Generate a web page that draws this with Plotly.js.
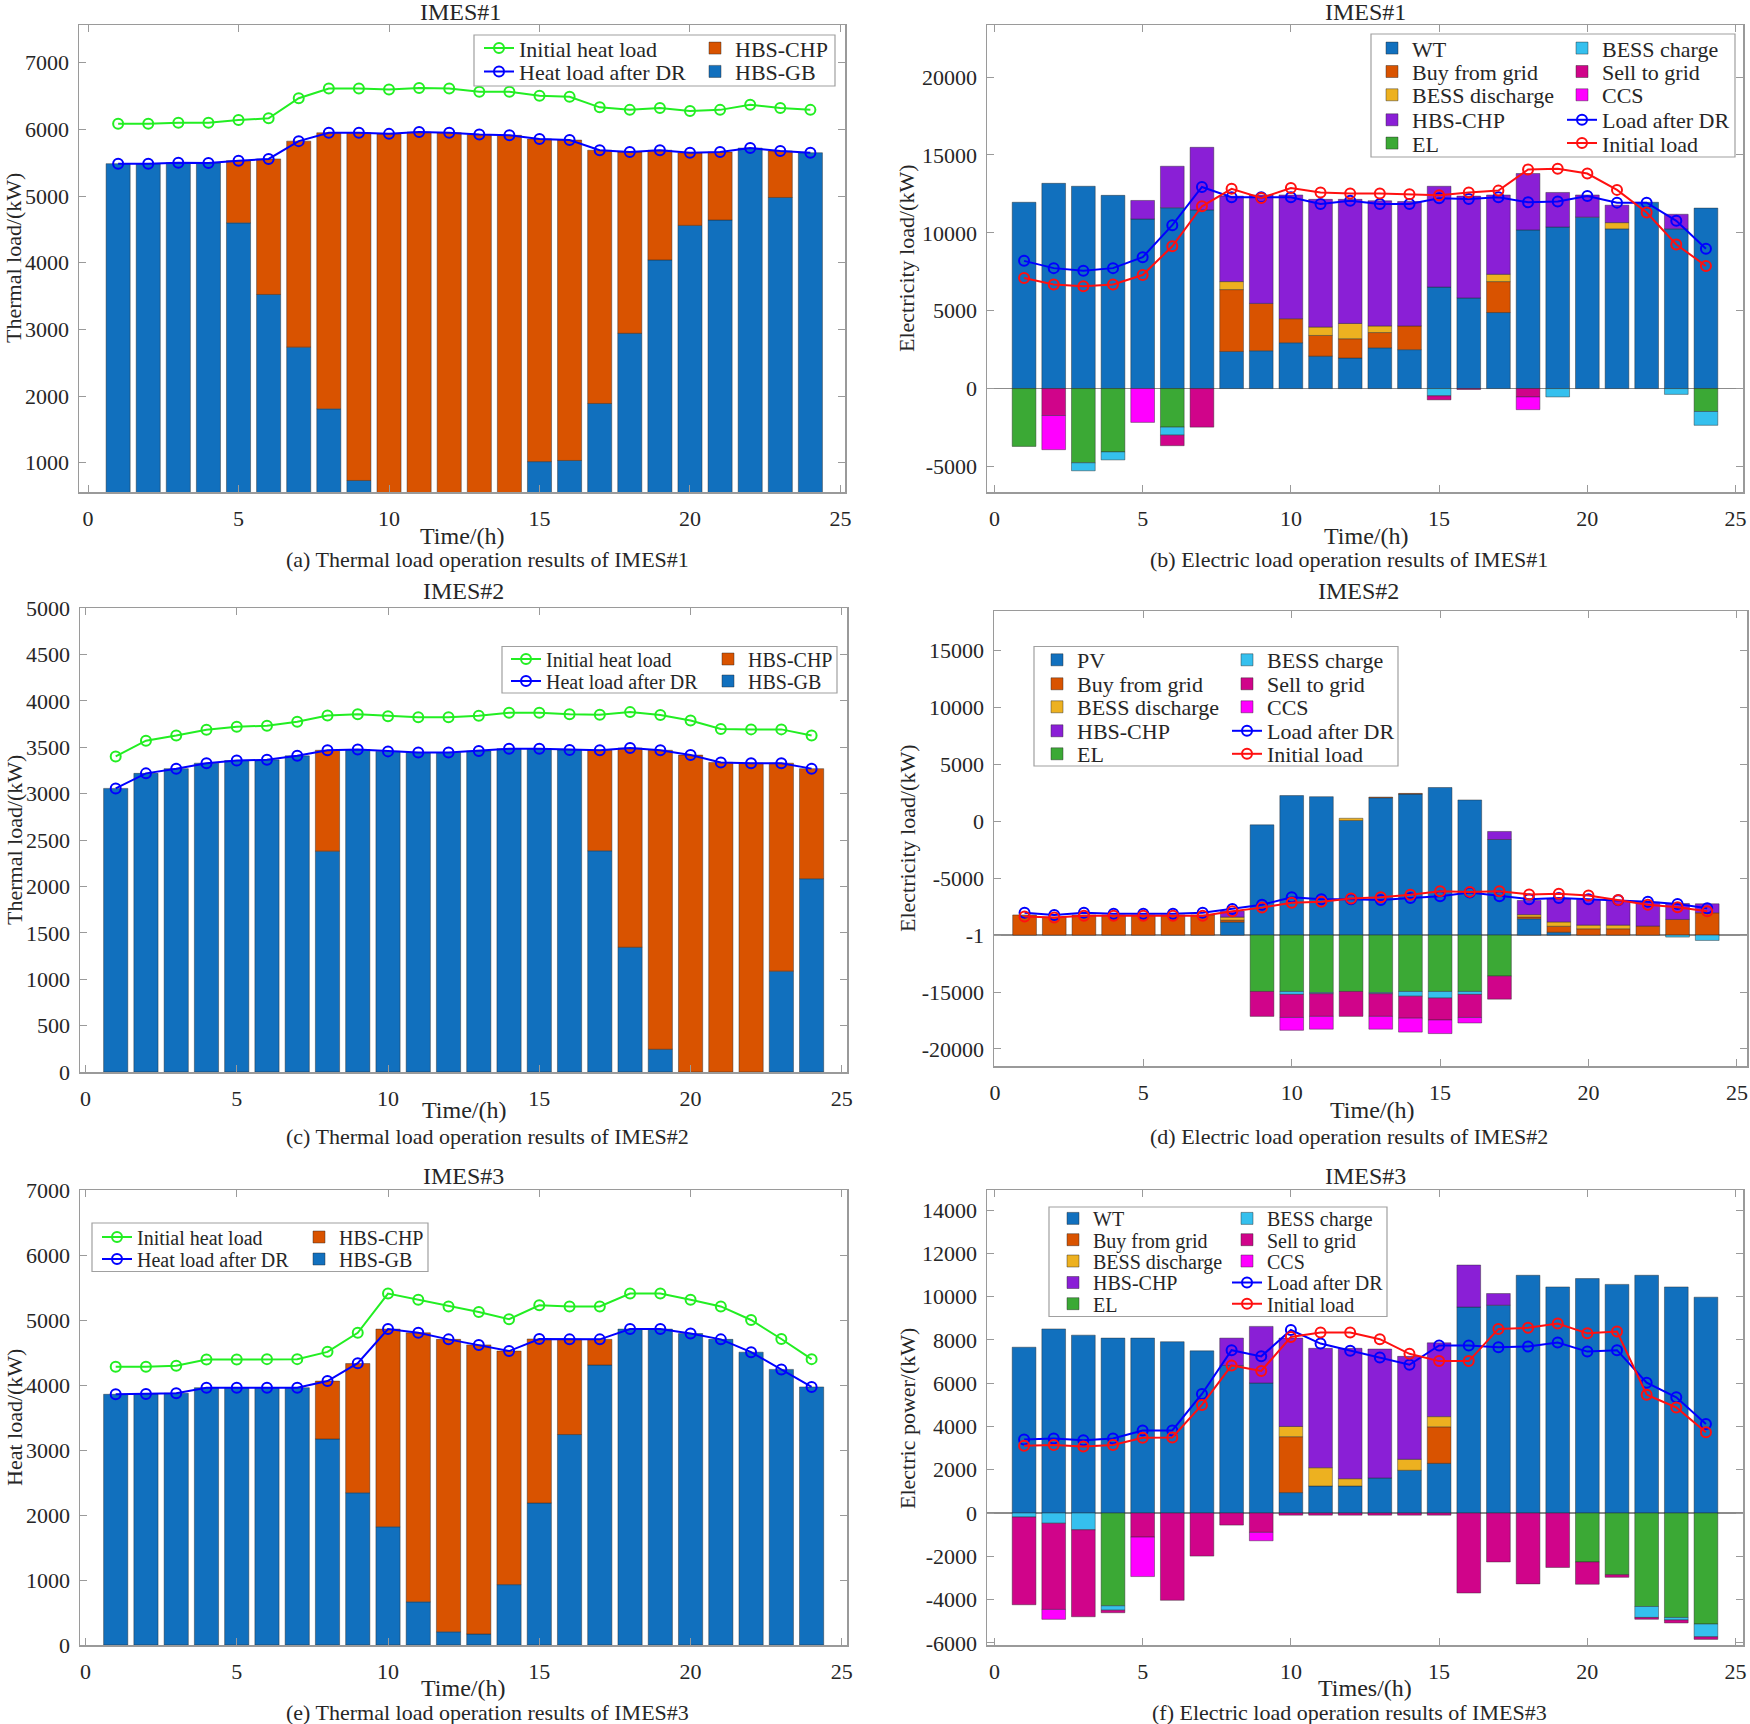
<!DOCTYPE html>
<html>
<head>
<meta charset="utf-8">
<script src="https://cdn.plot.ly/plotly-3.0.1.min.js"></script>
<style>
html,body{margin:0;padding:0;background:#fff;}
#chart{width:1750px;height:1724px;}
</style>
</head>
<body>
<div id="chart"></div>
<script>
// ---------------- DATA ----------------
const hours = [1,2,3,4,5,6,7,8,9,10,11,12,13,14,15,16,17,18,19,20,21,22,23,24];
const xTicks = [0,5,10,15,20,25];

// (a) Thermal load IMES#1
const a_GB      = [5485,5485,5500,5495,4597,3523,2733,1807,733,0,0,0,0,0,1016,1033,1888,2940,4041,4559,4640,5719,4978,5649];
const a_CHP     = [0,0,0,0,933,2033,3090,4141,5215,5932,5959,5948,5921,5910,4840,4806,3799,2719,1646,1090,1019,0,698,0];
const a_initial = [6084,6084,6100,6100,6139,6166,6466,6613,6613,6597,6619,6613,6564,6564,6504,6488,6330,6292,6319,6275,6292,6368,6319,6292];
const a_afterDR = [5485,5485,5500,5495,5530,5556,5823,5948,5948,5932,5959,5948,5921,5910,5856,5839,5687,5659,5687,5649,5659,5719,5676,5649];
const a_yTicks  = [1000,2000,3000,4000,5000,6000,7000];
const a_yLabels = ['1000','2000','3000','4000','5000','6000','7000'];

// (b) Electric load IMES#1
const b_WT      = [11960,13175,12988,12404,10886,11610,11470,2383,2429,2943,2079,1962,2616,2500,6517,5817,4882,10185,10372,11003,10255,11960,10255,11587];
const b_buy     = [0,0,0,0,0,0,0,3971,3037,1542,1332,1238,981,1518,0,0,1986,0,0,0,0,0,0,0];
const b_bessDis = [0,0,0,0,0,0,0,514,0,0,537,981,421,0,0,0,467,0,0,0,397,0,0,0];
const b_CHP     = [0,0,0,0,1191,2663,4018,5489,6962,7943,8199,7966,8036,7989,6471,6540,5093,3621,2219,1425,1121,0,934,0];
const b_EL      = [-3714,0,-4765,-4065,0,-2476,0,0,0,0,0,0,0,0,0,0,0,0,0,0,0,0,0,-1472];
const b_bessCh  = [0,0,-514,-514,0,-514,0,0,0,0,0,0,0,0,-467,0,0,0,-537,0,0,0,-374,-887];
const b_sell    = [0,-1729,0,0,0,-677,-2476,0,0,0,0,0,0,0,-257,-60,0,-537,0,0,0,0,0,0];
const b_CCS     = [0,-2195,0,0,-2172,0,0,0,0,0,0,0,0,0,0,0,0,-818,0,0,0,0,0,0];
const b_afterDR = [8199,7732,7569,7732,8433,10489,12941,12287,12287,12287,11843,12054,11843,11843,12217,12171,12287,11960,12007,12357,11937,11937,10769,8970];
const b_initial = [7101,6681,6564,6681,7288,9134,11703,12825,12241,12871,12591,12521,12521,12474,12404,12591,12708,14063,14109,13806,12755,11306,9251,7872];
const b_yTicks  = [-5000,0,5000,10000,15000,20000];
const b_yLabels = ['-5000','0','5000','10000','15000','20000'];

// (c) Thermal load IMES#2
const c_GB      = [3056,3218,3269,3328,3356,3364,3407,2380,3475,3455,3443,3443,3459,3483,3483,3471,2384,1344,245,0,0,0,1087,2083];
const c_CHP     = [0,0,0,0,0,0,0,1087,0,0,0,0,0,0,0,0,1083,2147,3222,3415,3336,3328,2241,1186];
const c_initial = [3400,3570,3625,3688,3720,3732,3775,3842,3854,3834,3822,3822,3838,3870,3870,3854,3850,3878,3846,3787,3696,3692,3692,3625];
const c_afterDR = [3056,3218,3269,3328,3356,3364,3407,3467,3475,3455,3443,3443,3459,3483,3483,3471,3467,3491,3467,3415,3336,3328,3328,3269];
const c_yTicks  = [0,500,1000,1500,2000,2500,3000,3500,4000,4500,5000];
const c_yLabels = ['0','500','1000','1500','2000','2500','3000','3500','4000','4500','5000'];

// (d) Electric load IMES#2 (values measured from the bar baseline)
const d_PV      = [0,0,0,0,0,0,0,1140,9683,12257,12160,10069,12064,12385,12964,11871,8396,1433,250,0,0,0,0,0];
const d_buy     = [1769,1576,1769,1769,1769,1769,1769,175,0,0,0,0,60,60,0,0,0,160,526,555,555,790,1374,1960];
const d_bessDis = [0,0,0,0,0,0,0,263,0,0,0,193,0,0,0,0,0,205,380,320,320,0,0,0];
const d_CHP     = [0,0,0,0,0,0,0,526,0,0,0,0,0,0,0,0,708,1250,2017,2250,2160,2105,1404,790];
const d_EL      = [0,0,0,0,0,0,0,0,-4954,-4954,-5051,-4954,-5051,-4954,-4954,-4954,-3603,0,0,0,0,0,0,0];
const d_bessCh  = [0,0,0,0,0,0,0,0,0,-257,-97,0,-97,-418,-579,-257,0,0,0,0,0,0,-175,-470];
const d_sell    = [0,0,0,0,0,0,0,0,-2188,-2027,-1994,-2188,-1994,-1930,-1930,-2027,-2027,0,0,0,0,0,0,0];
const d_CCS     = [0,0,0,0,0,0,0,0,0,-1126,-1126,0,-1126,-1222,-1190,-483,0,0,0,0,0,0,0,0];
const d_afterDR = [1962,1769,1962,1866,1866,1866,1962,2284,2670,3314,3153,3153,3088,3249,3410,3732,3410,3153,3249,3153,3056,2927,2734,2348];
const d_initial = [1641,1544,1705,1705,1705,1705,1705,2091,2413,2831,2927,3217,3314,3539,3860,3796,3860,3571,3635,3474,3088,2670,2445,2091];
const d_yTicks  = [-10000,-5000,0,5000,10000,15000,20000,25000];
const d_yLabels = ['-20000','-15000','-1','-5000','0','5000','10000','15000'];

// (e) Thermal load IMES#3
const e_GB      = [3857,3863,3874,3959,3959,3959,3959,3170,2342,1819,664,203,169,929,2185,3238,4308,4860,4860,4792,4702,4505,4240,3970];
const e_CHP     = [0,0,0,0,0,0,0,890,1988,3041,4139,4499,4448,3593,2523,1464,394,0,0,0,0,0,0,0];
const e_initial = [4280,4280,4296,4392,4392,4398,4398,4510,4803,5406,5310,5209,5124,5012,5226,5209,5209,5406,5406,5310,5209,5000,4708,4398];
const e_afterDR = [3857,3863,3874,3959,3959,3959,3959,4060,4336,4860,4803,4702,4617,4522,4708,4702,4702,4860,4860,4792,4702,4505,4240,3970];
const e_yTicks  = [0,1000,2000,3000,4000,5000,6000,7000];
const e_yLabels = ['0','1000','2000','3000','4000','5000','6000','7000'];

// (f) Electric load IMES#3
const f_WT      = [7664,8508,8221,8086,8086,7917,7495,6820,6009,945,1249,1249,1620,1975,2296,9520,9605,10989,10449,10837,10567,10989,10449,9976];
const f_buy     = [0,0,0,0,0,0,0,0,0,2583,0,0,0,0,1688,0,0,0,0,0,0,0,0,0];
const f_bessDis = [0,0,0,0,0,0,0,0,0,473,844,338,0,506,472,0,0,0,0,0,0,0,0,0];
const f_CHP     = [0,0,0,0,0,0,0,1266,2617,4085,5520,6026,5959,4760,3410,1941,540,0,0,0,0,0,0,0];
const f_EL      = [0,0,0,-4288,0,0,0,0,0,0,0,0,0,0,0,0,0,0,0,-2262,-2853,-4321,-4828,-5132];
const f_bessCh  = [-186,-473,-776,-203,0,0,0,0,0,0,0,0,0,0,0,0,0,0,0,0,0,-506,-118,-591];
const f_sell    = [-4053,-3984,-4018,-118,-1114,-4034,-1992,-557,-895,-100,-100,-100,-100,-100,-100,-3697,-2262,-3275,-2515,-1030,-118,-84,-135,-118];
const f_CCS     = [0,-456,0,0,-1823,0,0,0,-388,0,0,0,0,0,0,0,0,0,0,0,0,0,0,0];
const f_afterDR = [3393,3443,3359,3443,3815,3815,5503,7528,7241,8457,7832,7495,7191,6853,7748,7748,7664,7697,7883,7461,7528,6026,5351,4119];
const f_initial = [3106,3140,3072,3140,3477,3494,4996,6820,6566,8136,8339,8339,8035,7360,7022,7022,8508,8558,8761,8305,8390,5469,4878,3730];
const f_yTicks  = [-6000,-4000,-2000,0,2000,4000,6000,8000,10000,12000,14000];
const f_yLabels = ['-6000','-4000','-2000','0','2000','4000','6000','8000','10000','12000','14000'];

// ---------------- STYLE ----------------
const W = 1750, H = 1724;
const FONT = 'Liberation Serif, serif';
const TXT = '#262626';
const FRAME = '#9a9a9a';
const C = {
  blue:'#1170BE', orange:'#D95300', yellow:'#EDB120', purple:'#8A1FD6',
  green:'#3BA935', cyan:'#35C0EE', sell:'#D0048A', ccs:'#FF00FF',
  lBlue:'#0000FF', lRed:'#FF1010', lGreen:'#22EE22'
};
const px = v => v / W;
const py = v => 1 - v / H;

const layout = {
  width: W, height: H,
  margin: {l:0, r:0, t:0, b:0},
  paper_bgcolor: '#fff', plot_bgcolor: '#fff',
  barmode: 'relative', bargap: 0.2,
  showlegend: true,
  font: {family: FONT, color: TXT},
  annotations: [], shapes: []
};
const data = [];
const lines = [];

let legendCount = 0;
function newLegend(xLeft, yMid, fs) {
  legendCount++;
  const key = legendCount === 1 ? 'legend' : 'legend' + legendCount;
  layout[key] = {
    x: px(xLeft), y: py(yMid), xref:'paper', yref:'paper',
    xanchor:'left', yanchor:'middle',
    bgcolor:'rgba(0,0,0,0)', borderwidth:0,
    font:{family:FONT, size:fs, color:TXT},
    itemwidth:30, tracegroupgap:0
  };
  return key;
}
function legendBox(x0, y0, x1, y1) {
  layout.shapes.push({type:'rect', xref:'paper', yref:'paper',
    x0:px(x0), x1:px(x1), y0:py(y1), y1:py(y0),
    line:{color:'#a0a0a0', width:1.2}, fillcolor:'#fff', layer:'above'});
}
function addBar(ax, name, y, color, leg) {
  data.push({type:'bar', x:hours, y:y.map(v => v === 0 ? null : v), name:name,
    xaxis:'x'+ax, yaxis:'y'+ax, legend:leg, hoverinfo:'skip',
    marker:{color:color, line:{color:'rgba(40,40,40,0.55)', width:0.8}}});
}
function addLine(ax, name, y, color, leg) {
  lines.push({type:'scatter', mode:'lines+markers', x:hours, y:y, name:name,
    xaxis:'x'+ax, yaxis:'y'+ax, legend:leg, hoverinfo:'skip',
    line:{color:color, width:2},
    marker:{symbol:'circle-open', size:10, color:color, line:{color:color, width:2}}});
}
function annot(text, x, y, size, angle) {
  layout.annotations.push({text:text, xref:'paper', yref:'paper', x:px(x), y:py(y),
    xanchor:'center', yanchor:'middle', showarrow:false, textangle:angle||0,
    font:{family:FONT, size:size, color:TXT}});
}
function setAxes(i, dx, dy, xr, yr, yTickVals, yTickText, zero) {
  const s = i === 1 ? '' : String(i);
  layout['xaxis'+s] = {
    domain:[px(dx[0]), px(dx[1])], range:xr, anchor:'y'+s,
    tickvals:xTicks, ticks:'inside', ticklen:7, tickwidth:1, tickcolor:FRAME,
    showline:true, linecolor:FRAME, linewidth:1.5, mirror:'ticks',
    showgrid:false, zeroline:false, ticklabelstandoff:6,
    tickfont:{family:FONT, size:22, color:TXT}
  };
  layout['yaxis'+s] = {
    domain:[py(dy[1]), py(dy[0])], range:yr, anchor:'x'+s,
    tickvals:yTickVals, ticktext:yTickText, ticks:'inside', ticklen:7, tickwidth:1, tickcolor:FRAME,
    showline:true, linecolor:FRAME, linewidth:1.5, mirror:'ticks',
    showgrid:false, zeroline:!!zero, zerolinecolor:'#8c8c8c', zerolinewidth:1.5,
    ticklabelstandoff:4,
    tickfont:{family:FONT, size:22, color:TXT}
  };
}

// ---------------- PANEL (a) ----------------
setAxes(1, [79,845], [25,492], [-0.3,25.15], [560,7565], a_yTicks, a_yLabels, false);
addBar('', 'HBS-GB', a_GB, C.blue, newLegend(695, 71.6, 22));
addBar('', 'HBS-CHP', a_CHP, C.orange, newLegend(695, 48.3, 22));
addLine('', 'Initial heat load', a_initial, C.lGreen, newLegend(479, 48.3, 22));
addLine('', 'Heat load after DR', a_afterDR, C.lBlue, newLegend(479, 71.6, 22));
legendBox(474, 35, 835, 86);
annot('IMES#1', 461, 12, 24);
annot('Time/(h)', 462, 536, 24);
annot('Thermal load/(kW)', 14, 258, 22, -90);
annot('(a) Thermal load operation results of IMES#1', 487, 560, 22);

// ---------------- PANEL (b) ----------------
setAxes(2, [987,1743], [25,492], [-0.25,25.25], [-6640,23340], b_yTicks, b_yLabels, true);
{
  const rows = [48.3, 71.7, 95, 120, 143.3];
  addBar(2, 'WT', b_WT, C.blue, newLegend(1372, rows[0], 22));
  addBar(2, 'Buy from grid', b_buy, C.orange, newLegend(1372, rows[1], 22));
  addBar(2, 'BESS discharge', b_bessDis, C.yellow, newLegend(1372, rows[2], 22));
  addBar(2, 'HBS-CHP', b_CHP, C.purple, newLegend(1372, rows[3], 22));
  addBar(2, 'EL', b_EL, C.green, newLegend(1372, rows[4], 22));
  addBar(2, 'BESS charge', b_bessCh, C.cyan, newLegend(1562, rows[0], 22));
  addBar(2, 'Sell to grid', b_sell, C.sell, newLegend(1562, rows[1], 22));
  addBar(2, 'CCS', b_CCS, C.ccs, newLegend(1562, rows[2], 22));
  addLine(2, 'Load after DR', b_afterDR, C.lBlue, newLegend(1562, rows[3], 22));
  addLine(2, 'Initial load', b_initial, C.lRed, newLegend(1562, rows[4], 22));
  legendBox(1371, 34, 1735, 157);
}
annot('IMES#1', 1365, 12, 24);
annot('Time/(h)', 1366, 536, 24);
annot('Electricity load/(kW)', 907, 258, 22, -90);
annot('(b) Electric load operation results of IMES#1', 1349, 560, 22);

// ---------------- PANEL (c) ----------------
setAxes(3, [80,847], [608,1072], [-0.18,25.17], [0,5000], c_yTicks, c_yLabels, false);
addBar(3, 'HBS-GB', c_GB, C.blue, newLegend(708, 681, 20));
addBar(3, 'HBS-CHP', c_CHP, C.orange, newLegend(708, 659, 20));
addLine(3, 'Initial heat load', c_initial, C.lGreen, newLegend(506, 659, 20));
addLine(3, 'Heat load after DR', c_afterDR, C.lBlue, newLegend(506, 681, 20));
legendBox(502, 646.5, 837, 693);
annot('IMES#2', 463, 591, 24);
annot('Time/(h)', 464, 1110, 24);
annot('Thermal load/(kW)', 14, 840, 22, -90);
annot('(c) Thermal load operation results of IMES#2', 487, 1136, 22);

// ---------------- PANEL (d) ----------------
setAxes(4, [994,1747], [611,1066], [-0.03,25.34], [-11500,28470], d_yTicks, d_yLabels, true);
{
  const rows = [660, 684, 707, 731, 754];
  addBar(4, 'PV', d_PV, C.blue, newLegend(1037, rows[0], 22));
  addBar(4, 'Buy from grid', d_buy, C.orange, newLegend(1037, rows[1], 22));
  addBar(4, 'BESS discharge', d_bessDis, C.yellow, newLegend(1037, rows[2], 22));
  addBar(4, 'HBS-CHP', d_CHP, C.purple, newLegend(1037, rows[3], 22));
  addBar(4, 'EL', d_EL, C.green, newLegend(1037, rows[4], 22));
  addBar(4, 'BESS charge', d_bessCh, C.cyan, newLegend(1227, rows[0], 22));
  addBar(4, 'Sell to grid', d_sell, C.sell, newLegend(1227, rows[1], 22));
  addBar(4, 'CCS', d_CCS, C.ccs, newLegend(1227, rows[2], 22));
  addLine(4, 'Load after DR', d_afterDR, C.lBlue, newLegend(1227, rows[3], 22));
  addLine(4, 'Initial load', d_initial, C.lRed, newLegend(1227, rows[4], 22));
  legendBox(1034, 646.5, 1398, 766);
}
annot('IMES#2', 1358, 591, 24);
annot('Time/(h)', 1372, 1110, 24);
annot('Electricity load/(kW)', 907, 838, 22, -90);
annot('(d) Electric load operation results of IMES#2', 1349, 1136, 22);

// ---------------- PANEL (e) ----------------
setAxes(5, [80,847], [1190,1645], [-0.18,25.17], [0,7000], e_yTicks, e_yLabels, false);
addBar(5, 'HBS-GB', e_GB, C.blue, newLegend(299, 1259, 20));
addBar(5, 'HBS-CHP', e_CHP, C.orange, newLegend(299, 1237, 20));
addLine(5, 'Initial heat load', e_initial, C.lGreen, newLegend(97, 1237, 20));
addLine(5, 'Heat load after DR', e_afterDR, C.lBlue, newLegend(97, 1259, 20));
legendBox(92, 1223, 428, 1271.5);
annot('IMES#3', 463, 1176, 24);
annot('Time/(h)', 463, 1688, 24);
annot('Heat load/(kW)', 14, 1418, 22, -90);
annot('(e) Thermal load operation results of IMES#3', 487, 1712, 22);

// ---------------- PANEL (f) ----------------
setAxes(6, [987,1743], [1190,1645], [-0.25,25.25], [-6100,14930], f_yTicks, f_yLabels, true);
{
  const rows = [1218.4, 1239.7, 1261, 1282.5, 1303.7];
  addBar(6, 'WT', f_WT, C.blue, newLegend(1053, rows[0], 20));
  addBar(6, 'Buy from grid', f_buy, C.orange, newLegend(1053, rows[1], 20));
  addBar(6, 'BESS discharge', f_bessDis, C.yellow, newLegend(1053, rows[2], 20));
  addBar(6, 'HBS-CHP', f_CHP, C.purple, newLegend(1053, rows[3], 20));
  addBar(6, 'EL', f_EL, C.green, newLegend(1053, rows[4], 20));
  addBar(6, 'BESS charge', f_bessCh, C.cyan, newLegend(1227, rows[0], 20));
  addBar(6, 'Sell to grid', f_sell, C.sell, newLegend(1227, rows[1], 20));
  addBar(6, 'CCS', f_CCS, C.ccs, newLegend(1227, rows[2], 20));
  addLine(6, 'Load after DR', f_afterDR, C.lBlue, newLegend(1227, rows[3], 20));
  addLine(6, 'Initial load', f_initial, C.lRed, newLegend(1227, rows[4], 20));
  legendBox(1049, 1207, 1387, 1316.5);
}
annot('IMES#3', 1365, 1176, 24);
annot('Times/(h)', 1365, 1688, 24);
annot('Electric power/(kW)', 907, 1418, 22, -90);
annot('(f) Electric load operation results of IMES#3', 1349, 1712, 22);

Plotly.newPlot('chart', data.concat(lines), layout, {staticPlot:true, displayModeBar:false});
</script>
</body>
</html>
